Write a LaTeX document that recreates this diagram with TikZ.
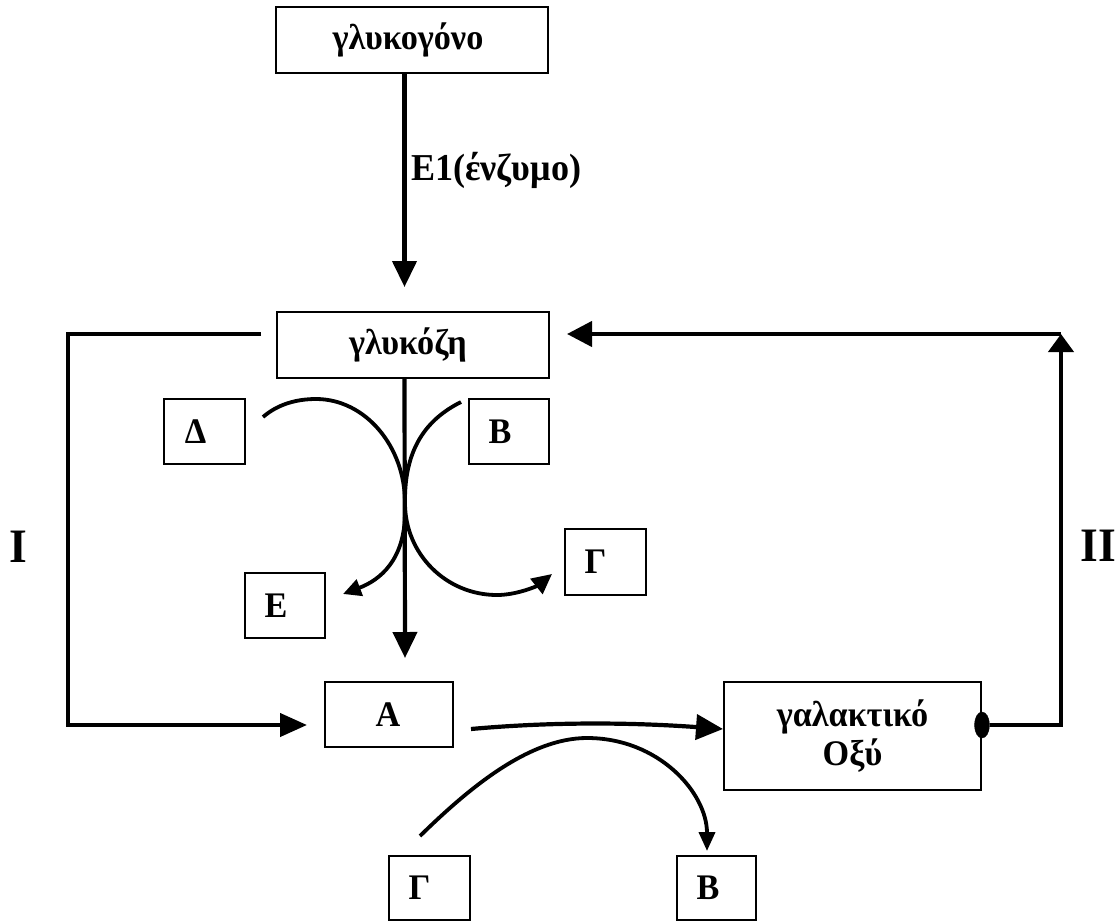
\documentclass[tikz,border=0pt]{standalone}
\usepackage{fontspec}
\setmainfont{Liberation Serif}[FakeStretch=0.95]
\usetikzlibrary{arrows.meta,shapes.geometric}
\newcommand\boxfont{\fontsize{36}{39}\selectfont\bfseries}
\newcommand\lblfont{\fontsize{38}{40}\selectfont\bfseries}
\newcommand\romfont{\fontsize{48}{50}\selectfont\bfseries}
\begin{document}
\begin{tikzpicture}[x=1pt,y=-1pt,
  box/.style={draw,line width=2pt,inner sep=0pt,font=\boxfont},
  conn/.style={line width=4.2pt},
  curv/.style={line width=3.8pt},
  bigtip/.style={-{Triangle[length=26pt,width=24pt]}}
]
\fill[white] (0,0) rectangle (1117,921);
\useasboundingbox (0,0) rectangle (1117,921);

% boxes
\node[box,minimum width=272pt,minimum height=66pt] (gly) at (412,40) {γλυκογόνο\kern8pt};
\node[box,minimum width=272pt,minimum height=66pt] (glu) at (413,345) {γλυκόζη\kern10pt};
\node[box,minimum width=81pt,minimum height=65pt] (D) at (204.5,431.5) {Δ\kern18pt};
\node[box,minimum width=80pt,minimum height=65pt] (Bt) at (509,431.5) {Β\kern18pt};
\node[box,minimum width=81pt,minimum height=66pt] (Gt) at (605.5,562) {Γ\kern20pt};
\node[box,minimum width=80pt,minimum height=65pt] (Et) at (285,605.5) {Ε\kern18pt};
\node[box,minimum width=128pt,minimum height=65pt] (A) at (389,714.5) {Α\kern2pt};
\node[box,minimum width=257pt,minimum height=108pt,align=center] (gal) at (852.5,736) {γαλακτικό\\Οξύ};
\node[box,minimum width=81pt,minimum height=64pt] (Gb) at (429.5,888) {Γ\kern20pt};
\node[box,minimum width=79pt,minimum height=64pt] (Bb) at (716.5,888) {Β\kern17pt};

% labels
\node[font=\romfont,inner sep=0pt] (I) at (18,547) {I};
\node[font=\romfont,inner sep=0pt] (II) at (1098,546) {II};
\node[font=\lblfont,anchor=base west,inner sep=0pt] (e1) at (411,180) {Ε1(ένζυμο)};

% vertical arrows
\draw[conn,bigtip] ([xshift=-7.5pt]gly.south) -- ([xshift=-8.5pt,yshift=24pt]glu.north);
\draw[conn,bigtip] ([xshift=-8.5pt]glu.south) -- ([xshift=16pt,yshift=23pt]A.north);

% loop I
\coordinate (cl) at (68,334);
\draw[conn,-{Triangle[length=27pt,width=23pt]}] ([xshift=-15pt,yshift=11pt]glu.west) -- (cl) |- ([xshift=-17pt,yshift=-10.5pt]A.west);

% loop II
\node[draw,fill=black,ellipse,inner sep=0pt,minimum width=15pt,minimum height=26pt] (dot) at ([yshift=11pt]gal.east) {};
\coordinate (cr) at (1061,334);
\draw[conn,-{Triangle[length=18pt,width=25pt]}] (dot.east) -| (cr);
\draw[conn,-{Triangle[length=25pt,width=25pt]}] (cr) -- ([xshift=17pt,yshift=11pt]glu.east);

% A -> lactic acid
\draw[conn,-{Triangle[length=27pt,width=25pt]}] ([xshift=17pt,yshift=-14.5pt]A.east) .. controls (560,721) and (640,723) .. ([yshift=7pt]gal.west);

% coupled curves
\draw[curv,-{Triangle[length=20pt,width=19pt]}] ([xshift=17pt,yshift=14.5pt]D.east) .. controls (278,404) and (297,399) .. (316,399) .. controls (365,399) and (405,446) .. (405,503) .. controls (405,554) and (446,595) .. (497,595) .. controls (517,595) and (537,586) .. ([xshift=-12pt,yshift=-12pt]Gt.west);
\draw[curv,-{Triangle[length=18pt,width=17pt]}] ([xshift=-7pt,yshift=29.5pt]Bt.west) .. controls (425,420) and (405,450) .. (405,500) -- (405,512) .. controls (405,560) and (380,580) .. ([xshift=17pt,yshift=11.5pt]Et.east);

% bottom arc
\draw[curv,-{Triangle[length=19pt,width=16pt]}] ([xshift=-9.5pt,yshift=19pt]Gb.north) .. controls (469,788) and (529,738) .. (587,738) .. controls (659,738) and (707,793) .. ([xshift=-9.5pt,yshift=4pt]Bb.north);
\end{tikzpicture}
\end{document}
